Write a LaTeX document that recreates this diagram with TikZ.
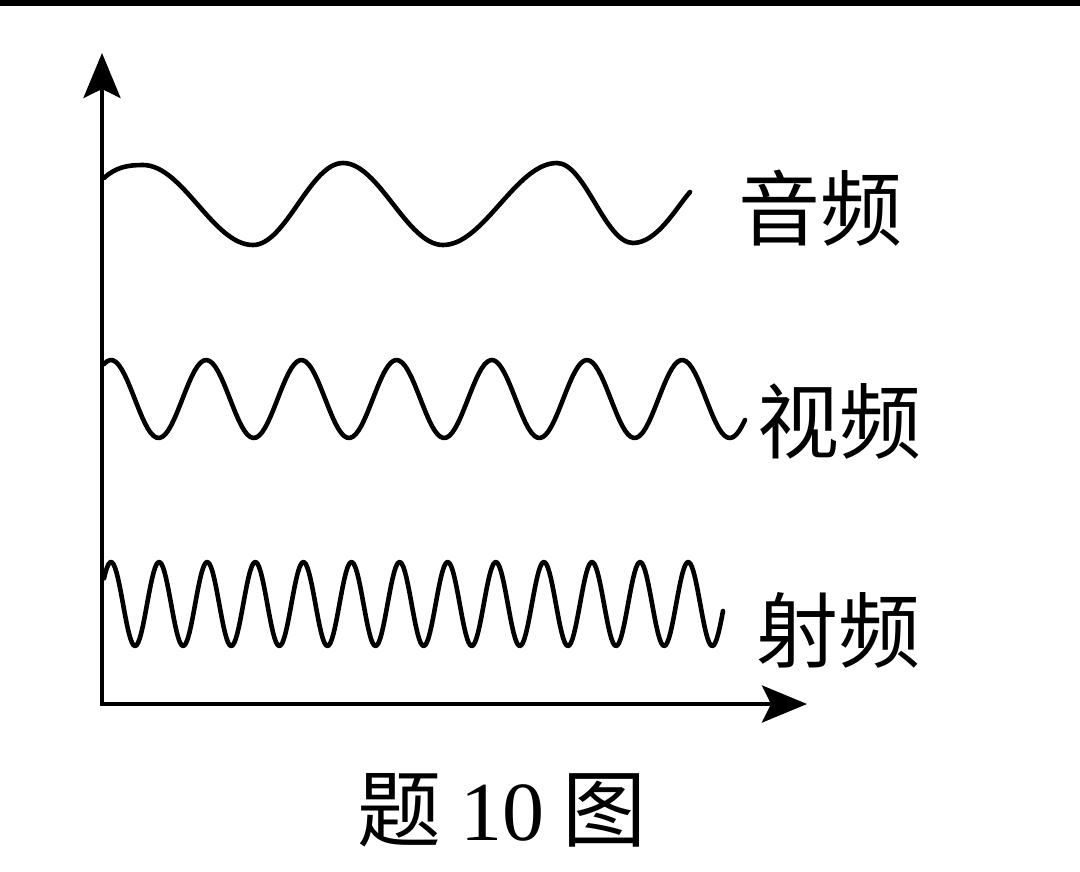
\documentclass[tikz,border=0pt]{standalone}
\usepackage{fontspec}
\setmainfont{Liberation Serif}
\newfontfamily\cjk{Noto Sans CJK SC}
\usetikzlibrary{arrows.meta}

\begin{document}
\begin{tikzpicture}[x=1pt,y=-1pt,
  wave/.style={line width=4.6pt,line cap=round,line join=round},
  axis/.style={line width=4.4pt,line join=miter,{Stealth[length=45pt,width=37pt,inset=9pt]}-{Stealth[length=45pt,width=37pt,inset=9pt]}},
  lbl/.style={font=\cjk\fontsize{82}{90}\selectfont,inner sep=0pt}]
\useasboundingbox (0,0) rectangle (1080,871);
\fill (0,0) rectangle (1080,6);

\coordinate (O) at (102,704);
\coordinate (ytip) at (102,53);
\coordinate (xtip) at (807,704);
\draw[axis] (ytip) -- (O) -- (xtip);

% audio
\draw[wave] (104,178) .. controls (116,167) and (128,165) .. (143,165)
  .. controls +(40,0) and +(-40,0) .. (253,245)
  .. controls +(33,0) and +(-33,0) .. (343,163)
  .. controls +(36,0) and +(-36,0) .. (443,245)
  .. controls +(41,0) and +(-41,0) .. (557,163)
  .. controls +(28,0) and +(-28,0) .. (633,243)
  .. controls (657,243) and (676,208) .. (690,192);

% video
\draw[wave] plot[domain=104:745,samples=220] (\x,{399-39*cos((\x-111)/95.2*360)});

% rf
\draw[wave] plot[domain=104:723,samples=400] (\x,{604-42*cos((\x-111)/48.1*360)});

\node[lbl] (audio) at (820,208) {音频};
\node[lbl] (video) at (839,421) {视频};
\node[lbl] (rf) at (838,630) {射频};
\node[lbl,font=\cjk\fontsize{84}{90}\selectfont] (caption) at (502,810) {题 {\rmfamily 10} 图};
\end{tikzpicture}
\end{document}
